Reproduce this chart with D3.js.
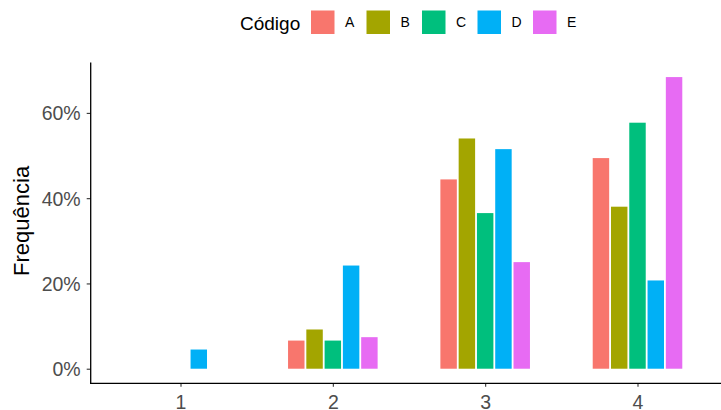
<!DOCTYPE html>
<html>
<head>
<meta charset="utf-8">
<script src="https://cdn.jsdelivr.net/npm/d3@7"></script>
<style>
  html, body { margin: 0; padding: 0; background: #fff; }
  svg { display: block; font-family: "Liberation Sans", Arial, sans-serif; }
</style>
</head>
<body>
<script>
// ---- data ----
const groups = ["1", "2", "3", "4"];
const codes = ["A", "B", "C", "D", "E"];
const colors = ["#F8766D", "#A3A500", "#00BF7D", "#00B0F6", "#E76BF3"];
const valuesA = [null, 0.066, 0.444, 0.494];
const valuesB = [null, 0.092, 0.540, 0.380];
const valuesC = [null, 0.066, 0.365, 0.577];
const valuesD = [0.045, 0.242, 0.515, 0.207];
const valuesE = [null, 0.074, 0.250, 0.684];
const yTicks = [0, 0.2, 0.4, 0.6];
const legendTitle = "Código";
const yTitle = "Frequência";

const series = [valuesA, valuesB, valuesC, valuesD, valuesE];
const rows = [];
groups.forEach((g, gi) => {
  codes.forEach((c, ci) => {
    const v = series[ci][gi];
    if (v != null) rows.push({ group: g, code: c, value: v });
  });
});

const W = 721, H = 410;
const svg = d3.select("body").append("svg").attr("width", W).attr("height", H);

const panelLeft = 90.7, panelBottom = 383.3, panelTop = 62.5;

// x: group centers
const x = d3.scalePoint().domain(groups).range([180.5, 637.5]);
const step = x.step();
const dodge = d3.scaleBand().domain(codes).range([-0.3 * step, 0.3 * step]);
const barW = dodge.bandwidth() * 0.9;

const maxV = d3.max(rows, d => d.value);
const y = d3.scaleLinear().domain([-0.05 * maxV, 1.05 * maxV]).range([panelBottom, panelTop]);
const color = d3.scaleOrdinal().domain(codes).range(colors);

// bars
svg.append("g").selectAll("rect").data(rows).join("rect")
  .attr("x", d => x(d.group) + dodge(d.code) + (dodge.bandwidth() - barW) / 2)
  .attr("width", barW)
  .attr("y", d => y(d.value))
  .attr("height", d => y(0) - y(d.value))
  .attr("fill", d => color(d.code));

// y axis
const yAxis = d3.axisLeft(y).tickValues(yTicks).tickFormat(d3.format(".0%")).tickSize(4).tickPadding(6);
const yg = svg.append("g").attr("transform", `translate(${panelLeft},0)`).call(yAxis);
yg.select(".domain").remove();
yg.selectAll(".tick line").attr("stroke", "#333").attr("stroke-width", 1.1);
yg.selectAll(".tick text").attr("fill", "#4d4d4d").style("font-size", "19.5px")
  .style("font-family", "Liberation Sans, Arial, sans-serif").attr("dy", "0.36em");
svg.append("line").attr("x1", panelLeft).attr("x2", panelLeft)
  .attr("y1", panelTop).attr("y2", panelBottom + 0.6)
  .attr("stroke", "#000").attr("stroke-width", 1.3);

// x axis
const xAxis = d3.axisBottom(x).tickSize(3.5).tickPadding(6);
const xg = svg.append("g").attr("transform", `translate(0,${panelBottom})`).call(xAxis);
xg.select(".domain").remove();
xg.selectAll(".tick line").attr("stroke", "#333").attr("stroke-width", 1.1);
xg.selectAll(".tick text").attr("fill", "#4d4d4d").style("font-size", "19.5px")
  .style("font-family", "Liberation Sans, Arial, sans-serif")
  .attr("dy", null).attr("y", 26.2);
svg.append("line").attr("x1", panelLeft - 0.6).attr("x2", W)
  .attr("y1", panelBottom).attr("y2", panelBottom)
  .attr("stroke", "#000").attr("stroke-width", 1.3);

// y title
svg.append("text")
  .attr("transform", `translate(29,${(panelTop + panelBottom) / 2 - 2}) rotate(-90)`)
  .attr("text-anchor", "middle")
  .style("font-size", "22px")
  .attr("fill", "#000")
  .text(yTitle);

// legend
const lg = svg.append("g");
lg.append("text").attr("x", 240).attr("y", 29.5).style("font-size", "19px").attr("fill", "#000").text(legendTitle);
const items = lg.selectAll("g.item").data(codes).join("g").attr("class", "item")
  .attr("transform", (d, i) => `translate(${311 + i * 55.5},10.5)`);
items.append("rect").attr("width", 23.5).attr("height", 23.5).attr("fill", d => color(d));
items.append("text").attr("x", 34).attr("y", 16.7).style("font-size", "14px").attr("fill", "#000").text(d => d);
</script>
</body>
</html>
